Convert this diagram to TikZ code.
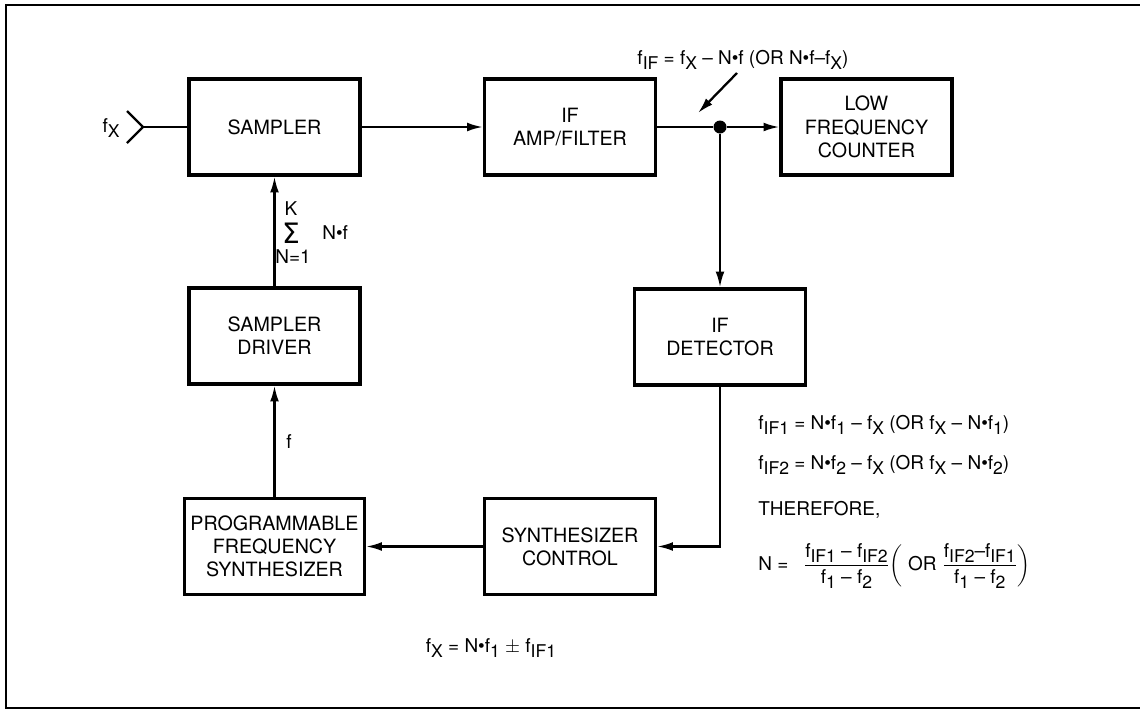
\documentclass[tikz,border=0pt]{standalone}
\usepackage{fontspec}
\setmainfont{TeX Gyre Heros}
\newfontfamily\sigmafont{DejaVu Sans}
\usetikzlibrary{arrows.meta}
\newcommand{\sbs}[1]{\raisebox{-0.5ex}{\fontsize{10}{10}\selectfont #1}}
\newcommand{\dotb}{\textbullet}
\tikzset{
  bloc/.style={draw, line width=1.8pt, minimum width=3.42cm, minimum height=1.92cm,
    align=center, font=\fontsize{11.2}{13.2}\selectfont},
  liaison/.style={line width=1.3pt},
  fleche/.style={liaison, -{Latex[length=9pt,width=5pt]}},
  txt/.style={font=\fontsize{10.8}{12.5}\selectfont, inner sep=0pt},
}
\begin{document}
\begin{tikzpicture}[x=0.02cm, y=-0.02cm]
  \useasboundingbox (0,0) rectangle (1140,711);

  % Cadre autour de la figure (ouvert a droite)
  \draw[line width=1.6pt] (1145,5) -- (6,5) -- (6,708) -- (1145,708);

  % Les blocs de la chaine
  \node[bloc] (smp) at (274.5,127) {SAMPLER};
  \node[bloc] (ifa) at (570,127) {IF\\AMP/FILTER};
  \node[bloc] (lfc) at (866.5,127) {LOW\\FREQUENCY\\COUNTER};
  \node[bloc] (drv) at (274.5,336) {SAMPLER\\DRIVER};
  \node[bloc] (det) at (720,337) {IF\\DETECTOR};
  \node[bloc] (pfs) at (274.5,546.5) {PROGRAMMABLE\\FREQUENCY\\SYNTHESIZER};
  \node[bloc] (syn) at (570,546.5) {SYNTHESIZER\\CONTROL};

  % Entree du signal f_x
  \coordinate (inp) at (143,127);
  \coordinate (inh) at (127,111);
  \coordinate (inb) at (127,143);
  \draw[liaison] (inh) -- (inp) -- (inb);
  \node[txt] (fx) at (111,128) {f\sbs{X}};

  % Point de jonction apres le filtre FI
  \node[circle, fill, inner sep=0pt, minimum size=0.26cm] (jct) at (720,127) {};

  % Liaisons entre les blocs
  \draw[liaison] (inp) -- (smp.west);
  \draw[fleche] (smp.east) -- (ifa.west);
  \draw[liaison] (ifa.east) -- (jct);
  \draw[fleche] (jct) -- (lfc.west);
  \draw[fleche] (jct) -- (det.north);
  \draw[fleche] (det.south) |- (syn.east);
  \draw[fleche] (syn.west) -- (pfs.east);
  \draw[fleche] (pfs.north) -- (drv.south);
  \draw[fleche] (drv.north) -- (smp.south);

  % Etiquettes des liaisons
  \node[txt] (lf) at (289,442) {f};
  \node[txt] (sk) at (291,209) {K};
  \node[inner sep=0pt, font=\sigmafont\fontsize{16}{16}\selectfont] (sg) at (291,233) {Σ};
  \node[txt] (sn) at (293,257) {N=1};
  \node[txt, anchor=west] (nf) at (322,233) {N\dotb f};

  % Frequence intermediaire (fleche oblique)
  \node[txt] (fif) at (743,60) {f\sbs{IF} = f\sbs{X} -- N\dotb f (OR N\dotb f--f\sbs{X})};
  \coordinate (pa) at (737,73);
  \coordinate (pb) at (698,113);
  \draw[fleche] (pa) -- (pb);

  % Relations a droite
  \node[txt, anchor=west] (eq1) at (758,425) {f\sbs{IF1} = N\dotb f\sbs{1} -- f\sbs{X} (OR f\sbs{X} -- N\dotb f\sbs{1})};
  \node[txt, anchor=west] (eq2) at (758,465) {f\sbs{IF2} = N\dotb f\sbs{2} -- f\sbs{X} (OR f\sbs{X} -- N\dotb f\sbs{2})};
  \node[txt, anchor=west] (thf) at (758,510) {THEREFORE,};
  \node[txt, anchor=west] (eqn) at (758,566) {N = \enspace
    $\displaystyle\frac{\mbox{f\sbs{IF1} -- f\sbs{IF2}}}{\mbox{f\sbs{1} -- f\sbs{2}}}
    \biggl(\mbox{ OR }\frac{\mbox{f\sbs{IF2}--f\sbs{IF1}}}{\mbox{f\sbs{1} -- f\sbs{2}}}\biggr)$};

  % Relation en bas
  \node[txt] (eqx) at (491,648) {f\sbs{X} = N\dotb f\sbs{1} $\pm$ f\sbs{IF1}};

\end{tikzpicture}
\end{document}
